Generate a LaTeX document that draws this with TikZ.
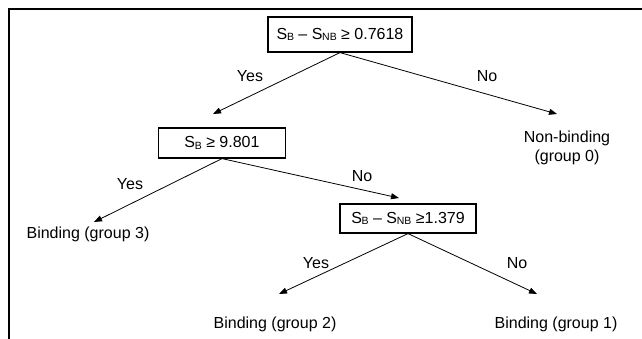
\documentclass[tikz,border=0pt]{standalone}
\usepackage{fontspec}
\setmainfont{Liberation Sans}
\usetikzlibrary{arrows.meta}
\newcommand\sbs[1]{\kern-0.3pt\raisebox{-1.8pt}{\fontsize{10.5}{10.5}\selectfont #1}}
\begin{document}
\begin{tikzpicture}[x=1pt,y=-1pt,
  lbl/.style={font=\fontsize{16}{19}\selectfont, inner sep=0pt},
  testbox/.style={draw, line width=1.2pt, font=\fontsize{16}{19}\selectfont, inner sep=0pt},
  arr/.style={line width=0.8pt, -{Triangle[length=8pt,width=6pt]}}]
\useasboundingbox (0,0) rectangle (642,339);
\draw[line width=1.2pt] (9,339) -- (9,9) -- (642,9);
% nodes
\node[testbox, minimum width=144, minimum height=35] (t1) at (340,34.5) {S\sbs{B} – S\sbs{NB} ≥ 0.7618};
\node[testbox, minimum width=127, minimum height=30] (t2) at (222,143) {S\sbs{B} ≥ 9.801};
\node[testbox, minimum width=136, minimum height=29] (t3) at (408,218.5) {S\sbs{B} – S\sbs{NB} ≥1.379};
\node[lbl, align=center] (g0) at (567,148) {Non-binding\\(group 0)};
\node[lbl] (g3) at (88,234) {Binding (group 3)};
\node[lbl] (g2) at (275,324) {Binding (group 2)};
\node[lbl] (g1) at (556,324) {Binding (group 1)};
\coordinate (a1) at (213,114);
\coordinate (a2) at (557,114);
\coordinate (a3) at (94,222);
\coordinate (a4) at (399,198);
\coordinate (a5) at (279,294);
\coordinate (a6) at (537,294);
% connectors
\draw[arr] (t1.south) -- (a1);
\draw[arr] (t1.south) -- (a2);
\draw[arr] (t2.south) -- (a3);
\draw[arr] (t2.south) -- (a4);
\draw[arr] (t3.south) -- (a5);
\draw[arr] (t3.south) -- (a6);
% labels
\node[lbl] (y1) at (250,76) {Yes};
\node[lbl] (n1) at (487,76) {No};
\node[lbl] (y2) at (130,184) {Yes};
\node[lbl] (n2) at (362,176) {No};
\node[lbl] (y3) at (316,263) {Yes};
\node[lbl] (n3) at (517,263) {No};
\end{tikzpicture}
\end{document}
